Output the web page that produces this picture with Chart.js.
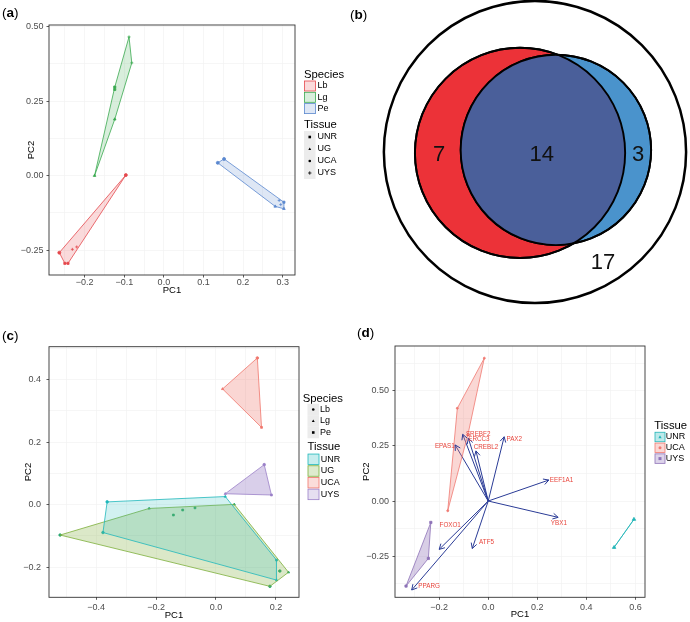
<!DOCTYPE html>
<html>
<head>
<meta charset="utf-8">
<script src="https://cdn.jsdelivr.net/npm/chart.js@4.4.1/dist/chart.umd.min.js"></script>
<style>
  body { margin: 0; background: #fff; width: 690px; height: 622px; position: relative; overflow: hidden;
         font-family: "Liberation Sans", Arial, sans-serif; }
  canvas { position: absolute; }
  .tag { position: absolute; font-size: 13.5px; color: #000; line-height: 15px; }
</style>
</head>
<body>
<canvas id="pa" width="345" height="300" style="left:0;top:0"></canvas>
<canvas id="pc" width="345" height="322" style="left:0;top:300px"></canvas>
<canvas id="pd" width="345" height="322" style="left:345px;top:300px"></canvas>
<canvas id="pb" width="345" height="310" style="left:345px;top:0"></canvas>
<div class="tag" style="left:2px;top:5px">(<b>a</b>)</div>
<div class="tag" style="left:350px;top:7px">(<b>b</b>)</div>
<div class="tag" style="left:2px;top:328px">(<b>c</b>)</div>
<div class="tag" style="left:357px;top:325px">(<b>d</b>)</div>
<script>
// ---- panel (a): PCA by species, shapes = tissue
const aSpecies = ['Lb', 'Lg', 'Pe'];
const aTissues = ['UNR', 'UG', 'UCA', 'UYS'];
const aLbX = [-0.096, -0.264, -0.250, -0.242, -0.231, -0.220];
const aLbY = [0.002, -0.258, -0.294, -0.294, -0.247, -0.239];
const aLbT = ['UCA', 'UCA', 'UNR', 'UNR', 'UYS', 'UYS'];
const aLgX = [-0.088, -0.081, -0.124, -0.124, -0.124, -0.175];
const aLgY = [0.465, 0.378, 0.297, 0.289, 0.189, 0.000];
const aLgT = ['UYS', 'UYS', 'UNR', 'UNR', 'UG', 'UG'];
const aPeX = [0.136, 0.152, 0.281, 0.303, 0.303, 0.291, 0.295];
const aPeY = [0.043, 0.056, -0.103, -0.111, -0.089, -0.083, -0.097];
const aPeT = ['UCA', 'UCA', 'UG', 'UG', 'UNR', 'UYS', 'UYS'];
const aXTicks = [-0.2, -0.1, 0.0, 0.1, 0.2, 0.3];
const aXLabels = ['\u22120.2', '\u22120.1', '0.0', '0.1', '0.2', '0.3'];
const aYTicks = [-0.25, 0.00, 0.25, 0.50];
const aYLabels = ['\u22120.25', '0.00', '0.25', '0.50'];

// ---- panel (b): Venn counts
const vennCounts = ['7', '14', '3', '17'];
const vennCountX = [4.09, 8.55, 12.74, 11.22];
const vennCountY = [6.74, 6.74, 6.74, 2.04];
const vennX = [8.26, 7.61, 9.17];   // outer, red set, blue set
const vennY = [6.87, 6.83, 6.96];
const vennR = [6.57, 4.57, 4.14];

// ---- panel (c): PCA by tissue, shapes = species
const cTissues = ['UNR', 'UG', 'UCA', 'UYS'];
const cSpecies = ['Lb', 'Lg', 'Pe'];
const cUnrX = [-0.363, 0.031, 0.202, 0.202, -0.377];
const cUnrY = [0.009, 0.026, -0.177, -0.241, -0.089];
const cUnrS = ['Lb', 'Lg', 'Pe', 'Lg', 'Lb'];
const cUgX = [-0.520, -0.223, 0.061, 0.242, 0.180, -0.142, -0.111, -0.070, 0.213];
const cUgY = [-0.097, -0.012, 0.001, -0.216, -0.261, -0.033, -0.017, -0.010, -0.212];
const cUgS = ['Lb', 'Lg', 'Lg', 'Lg', 'Lb', 'Pe', 'Pe', 'Pe', 'Lb'];
const cUcaX = [0.138, 0.022, 0.152];
const cUcaY = [0.469, 0.370, 0.247];
const cUcaS = ['Lb', 'Lg', 'Pe'];
const cUysX = [0.161, 0.031, 0.185];
const cUysY = [0.128, 0.035, 0.031];
const cUysS = ['Lb', 'Lg', 'Pe'];
const cXTicks = [-0.4, -0.2, 0.0, 0.2];
const cXLabels = ['\u22120.4', '\u22120.2', '0.0', '0.2'];
const cYTicks = [-0.2, 0.0, 0.2, 0.4];
const cYLabels = ['\u22120.2', '0.0', '0.2', '0.4'];

// ---- panel (d): biplot
const dTissues = ['UNR', 'UCA', 'UYS'];
const dUnrX = [0.594, 0.513];
const dUnrY = [-0.083, -0.210];
const dUcaX = [-0.016, -0.126, -0.165, -0.083];
const dUcaY = [0.647, 0.420, -0.044, 0.300];
const dUysX = [-0.234, -0.244, -0.335];
const dUysY = [-0.097, -0.260, -0.385];
const genes = ['SREBF2', 'ERCC3', 'CREBL2', 'EPAS1', 'PAX2', 'EEF1A1', 'YBX1', 'FOXO1', 'ATF5', 'PPARG'];
const geneX = [-0.104, -0.081, -0.050, -0.135, 0.065, 0.247, 0.285, -0.200, -0.065, -0.312];
const geneY = [0.302, 0.284, 0.227, 0.254, 0.291, 0.095, -0.074, -0.219, -0.215, -0.403];
const geneLabX = [-0.041, -0.038, -0.009, -0.177, 0.106, 0.299, 0.288, -0.155, -0.007, -0.241];
const geneLabY = [0.302, 0.281, 0.242, 0.246, 0.280, 0.095, -0.101, -0.109, -0.189, -0.384];
const dXTicks = [-0.2, 0.0, 0.2, 0.4, 0.6];
const dXLabels = ['\u22120.2', '0.0', '0.2', '0.4', '0.6'];
const dYTicks = [-0.25, 0.00, 0.25, 0.50];
const dYLabels = ['\u22120.25', '0.00', '0.25', '0.50'];

const ff = '"Liberation Sans", Arial, sans-serif';
Chart.defaults.font.family = ff;
Chart.defaults.animation = false;
Chart.defaults.events = [];
Chart.defaults.plugins.legend.display = false;
Chart.defaults.plugins.tooltip.enabled = false;

const shapeOf = { UNR: 'rect', UG: 'triangle', UCA: 'circle', UYS: 'cross', Lb: 'circle', Lg: 'triangle', Pe: 'rect' };

function rgba(hex, a) {
    const n = parseInt(hex.slice(1), 16);
    return `rgba(${n >> 16},${(n >> 8) & 255},${n & 255},${a})`;
}

// convex hull (monotone chain), like chull() in R
function hull(xs, ys) {
    const p = xs.map((x, i) => ({ x: x, y: ys[i] })).sort((a, b) => a.x - b.x || a.y - b.y);
    if (p.length < 3) return p;
    const cross = (o, a, b) => (a.x - o.x) * (b.y - o.y) - (a.y - o.y) * (b.x - o.x);
    const lo = [], up = [];
    for (const q of p) {
        while (lo.length >= 2 && cross(lo[lo.length - 2], lo[lo.length - 1], q) <= 0) lo.pop();
        lo.push(q);
    }
    for (let i = p.length - 1; i >= 0; i--) {
        const q = p[i];
        while (up.length >= 2 && cross(up[up.length - 2], up[up.length - 1], q) <= 0) up.pop();
        up.push(q);
    }
    lo.pop(); up.pop();
    return lo.concat(up);
}

const hullSet = (xs, ys, col, alpha) => {
    const h = hull(xs, ys);
    return {
        type: 'line', data: h.concat([h[0]]), borderColor: col, backgroundColor: rgba(col, alpha),
        borderWidth: 0.8, pointRadius: 0, tension: 0, fill: h.length > 2 ? 'shape' : false
    };
};

const pointSet = (xs, ys, kinds, col, r) => ({
    type: 'scatter', data: xs.map((x, i) => ({ x: x, y: ys[i] })),
    pointStyle: kinds.map(k => shapeOf[k]), pointRadius: r, backgroundColor: col,
    borderColor: col, borderWidth: 0.8
});

function axis(opt) {
    const minor = opt.minor.filter(v => v > opt.min && v < opt.max);
    const isMajor = v => opt.ticks.findIndex(t => Math.abs(t - v) < 1e-9);
    return {
        type: 'linear', min: opt.min, max: opt.max,
        afterBuildTicks: s => { s.ticks = opt.ticks.concat(minor).sort((a, b) => a - b).map(v => ({ value: v })); },
        afterFit: s => { if (opt.isX) s.height = opt.size; else s.width = opt.size; },
        grid: {
            color: '#f0f0f0', lineWidth: 0.6, tickLength: 2.5, tickWidth: 0.8,
            tickColor: c => (c.tick && isMajor(c.tick.value) >= 0) ? '#333' : 'rgba(0,0,0,0)'
        },
        border: { display: false },
        ticks: {
            autoSkip: false, maxRotation: 0, padding: opt.pad, color: '#4d4d4d', font: { size: 9 },
            callback: v => { const i = isMajor(v); return i < 0 ? '' : opt.labels[i]; }
        },
        title: { display: true, text: opt.title, color: '#000', font: { size: 9.5 }, padding: opt.titlePad }
    };
}

const frame = {
    id: 'frame',
    afterDraw(chart) {
        const { ctx, chartArea: a } = chart;
        ctx.save();
        ctx.strokeStyle = '#333';
        ctx.lineWidth = 0.9;
        ctx.strokeRect(a.left, a.top, a.right - a.left, a.bottom - a.top);
        ctx.restore();
    }
};

function sym(ctx, style, x, y, r) {
    ctx.beginPath();
    if (style === 'rect') { ctx.rect(x - r, y - r, 2 * r, 2 * r); ctx.fill(); }
    else if (style === 'triangle') {
        ctx.moveTo(x, y - r * 1.2); ctx.lineTo(x + r * 1.1, y + r * 0.8); ctx.lineTo(x - r * 1.1, y + r * 0.8);
        ctx.closePath(); ctx.fill();
    }
    else if (style === 'circle') { ctx.arc(x, y, r, 0, 2 * Math.PI); ctx.fill(); }
    else if (style === 'cross') {
        ctx.lineWidth = 0.8;
        ctx.moveTo(x - r * 1.3, y); ctx.lineTo(x + r * 1.3, y);
        ctx.moveTo(x, y - r * 1.3); ctx.lineTo(x, y + r * 1.3); ctx.stroke();
    }
}

// ggplot-like legend: sections with a title and keys
function legendPlugin(sections) {
    return {
        id: 'ggLegend',
        afterDraw(chart) {
            const ctx = chart.ctx;
            ctx.save();
            ctx.textBaseline = 'middle';
            ctx.textAlign = 'left';
            for (const s of sections) {
                ctx.font = `11.3px ${ff}`;
                ctx.fillStyle = '#000';
                ctx.fillText(s.title, s.tx, s.ty);
                s.labels.forEach((lab, i) => {
                    const y = s.y0 + i * s.dy;
                    const col = s.colors ? s.colors[i] : '#000';
                    if (s.kind === 'symbol') {
                        ctx.fillStyle = '#ececec';
                        ctx.fillRect(s.kx, y - s.dy / 2, s.kw, s.dy);
                        ctx.fillStyle = '#000'; ctx.strokeStyle = '#000';
                        sym(ctx, shapeOf[lab], s.kx + s.kw / 2, y, 1.3);
                    } else {
                        ctx.fillStyle = rgba(col, s.alpha);
                        ctx.strokeStyle = col;
                        ctx.lineWidth = 0.8;
                        ctx.fillRect(s.kx + 0.5, y - s.kh / 2, s.kw - 1, s.kh);
                        ctx.strokeRect(s.kx + 0.5, y - s.kh / 2, s.kw - 1, s.kh);
                        if (s.kind === 'boxSymbol') {
                            ctx.fillStyle = col; ctx.strokeStyle = col;
                            sym(ctx, s.shapes[i], s.kx + s.kw / 2, y, 1.5);
                        }
                    }
                    ctx.font = `9px ${ff}`;
                    ctx.fillStyle = '#000';
                    ctx.fillText(lab, s.lx, y);
                });
            }
            ctx.restore();
        }
    };
}

// ================= panel (a)
const aCols = ['#e5484c', '#3aa94f', '#5a88cf'];
new Chart(document.getElementById('pa'), {
    type: 'scatter',
    data: {
        datasets: [
            hullSet(aLbX, aLbY, aCols[0], 0.2),
            hullSet(aLgX, aLgY, aCols[1], 0.2),
            hullSet(aPeX, aPeY, aCols[2], 0.2),
            pointSet(aLbX, aLbY, aLbT, aCols[0], 1.5),
            pointSet(aLgX, aLgY, aLgT, aCols[1], 1.5),
            pointSet(aPeX, aPeY, aPeT, aCols[2], 1.5)
        ]
    },
    options: {
        responsive: false,
        layout: { padding: { left: 0, top: 25, right: 50, bottom: 0 } },
        scales: {
            x: axis({ isX: true, min: -0.290, max: 0.331, ticks: aXTicks, labels: aXLabels,
                minor: [-0.25, -0.15, -0.05, 0.05, 0.15, 0.25], size: 25, pad: 0,
                title: 'PC1', titlePad: { top: 0, bottom: 3.6 } }),
            y: axis({ isX: false, min: -0.333, max: 0.505, ticks: aYTicks, labels: aYLabels,
                minor: [-0.125, 0.125, 0.375], size: 49, pad: 3,
                title: 'PC2', titlePad: { top: 26, bottom: 0 } })
        }
    },
    plugins: [frame, legendPlugin([
        { title: 'Species', tx: 304, ty: 75, labels: aSpecies, colors: aCols, kind: 'box', alpha: 0.2,
          kx: 304, kw: 12, kh: 10, y0: 86, dy: 11.3, lx: 317.5 },
        { title: 'Tissue', tx: 304, ty: 125.3, labels: aTissues, kind: 'symbol',
          kx: 304, kw: 11.5, y0: 137, dy: 12, lx: 317.5 }
    ])]
});

// ================= panel (b)
// bubble chart whose big circles should not shrink the plot area
class VennController extends Chart.BubbleController {
    getMaxOverflow() { return false; }
}
VennController.id = 'venn';
VennController.defaults = Chart.BubbleController.defaults;
VennController.overrides = Chart.BubbleController.overrides;
Chart.register(VennController);

// x axis spans 15 units over the 345px canvas, so one unit is 23px; bubble r is in pixels
const vennUnitPx = 345 / 15;
const vennPlugin = {
    id: 'vennOverlap',
    afterDatasetsDraw(chart) {
        const { ctx, scales: { x, y } } = chart;
        const cx = i => x.getPixelForValue(vennX[i]);
        const cy = i => y.getPixelForValue(vennY[i]);
        const rr = i => x.getPixelForValue(vennR[i]) - x.getPixelForValue(0);
        ctx.save();
        ctx.beginPath();
        ctx.arc(cx(1), cy(1), rr(1), 0, 2 * Math.PI);
        ctx.clip();
        ctx.beginPath();
        ctx.arc(cx(2), cy(2), rr(2), 0, 2 * Math.PI);
        ctx.fillStyle = '#4a5f9a';
        ctx.fill();
        ctx.restore();
        ctx.save();
        ctx.strokeStyle = '#000';
        ctx.lineWidth = 1.9;
        for (const i of [1, 2]) {
            ctx.beginPath();
            ctx.arc(cx(i), cy(i), rr(i), 0, 2 * Math.PI);
            ctx.stroke();
        }
        ctx.fillStyle = '#111';
        ctx.font = `22px ${ff}`;
        ctx.textAlign = 'center';
        ctx.textBaseline = 'middle';
        vennCounts.forEach((t, i) => {
            ctx.fillText(t, x.getPixelForValue(vennCountX[i]), y.getPixelForValue(vennCountY[i]));
        });
        ctx.restore();
    }
};
new Chart(document.getElementById('pb'), {
    type: 'venn',
    data: {
        datasets: [{
            data: vennX.map((v, i) => ({ x: v, y: vennY[i], r: vennR[i] * vennUnitPx })),
            backgroundColor: ['#ffffff', '#ec3238', '#4a93cc'],
            borderColor: '#000',
            borderWidth: [2.5, 1.9, 1.9],
            clip: false
        }]
    },
    options: {
        responsive: false,
        layout: { padding: 0 },
        scales: {
            x: { type: 'linear', display: false, min: 0, max: 15 },
            y: { type: 'linear', display: false, min: 0, max: 310 / 23 }
        }
    },
    plugins: [vennPlugin]
});

// ================= panel (c)
const cCols = ['#1fb8bb', '#7cae3a', '#f0766c', '#9b80c8'];
new Chart(document.getElementById('pc'), {
    type: 'scatter',
    data: {
        datasets: [
            hullSet(cUnrX, cUnrY, cCols[0], 0.2),
            hullSet(cUgX, cUgY, cCols[1], 0.28),
            hullSet(cUcaX, cUcaY, cCols[2], 0.3),
            hullSet(cUysX, cUysY, cCols[3], 0.38),
            pointSet(cUnrX, cUnrY, cUnrS, cCols[0], 1.3),
            pointSet(cUgX, cUgY, cUgS, '#2aa872', 1.3),
            pointSet(cUcaX, cUcaY, cUcaS, cCols[2], 1.3),
            pointSet(cUysX, cUysY, cUysS, cCols[3], 1.3)
        ]
    },
    options: {
        responsive: false,
        layout: { padding: { left: 0, top: 46.7, right: 46, bottom: 0 } },
        scales: {
            x: axis({ isX: true, min: -0.557, max: 0.277, ticks: cXTicks, labels: cXLabels,
                minor: [-0.5, -0.3, -0.1, 0.1], size: 24.7, pad: 2,
                title: 'PC1', titlePad: { top: 0, bottom: 1.3 } }),
            y: axis({ isX: false, min: -0.296, max: 0.505, ticks: cYTicks, labels: cYLabels,
                minor: [-0.3, -0.1, 0.1, 0.3, 0.5], size: 49, pad: 5.5,
                title: 'PC2', titlePad: { top: 23, bottom: 0 } })
        }
    },
    plugins: [frame, legendPlugin([
        { title: 'Species', tx: 302.7, ty: 99, labels: cSpecies, kind: 'symbol',
          kx: 307.5, kw: 11.5, y0: 109.5, dy: 11.5, lx: 320 },
        { title: 'Tissue', tx: 307.5, ty: 146.7, labels: cTissues, colors: cCols, kind: 'box', alpha: 0.25,
          kx: 307.5, kw: 12, kh: 10.5, y0: 159.3, dy: 11.7, lx: 320.7 }
    ])]
});

// ================= panel (d)
const dCols = ['#22b5b8', '#f07a72', '#8e72b8'];
const arrowCol = '#2a3b96';
const arrowHeads = {
    id: 'arrowHeads',
    afterDatasetsDraw(chart) {
        const { ctx, scales: { x, y } } = chart;
        const ox = x.getPixelForValue(0), oy = y.getPixelForValue(0);
        ctx.save();
        ctx.strokeStyle = arrowCol;
        ctx.lineWidth = 1;
        genes.forEach((g, i) => {
            const tx = x.getPixelForValue(geneX[i]), ty = y.getPixelForValue(geneY[i]);
            const ang = Math.atan2(ty - oy, tx - ox);
            ctx.beginPath();
            for (const s of [-1, 1]) {
                const a = ang + Math.PI + s * 0.5;
                ctx.moveTo(tx, ty);
                ctx.lineTo(tx + 6 * Math.cos(a), ty + 6 * Math.sin(a));
            }
            ctx.stroke();
        });
        ctx.fillStyle = '#e8453c';
        ctx.font = `6.3px ${ff}`;
        ctx.textAlign = 'center';
        ctx.textBaseline = 'middle';
        genes.forEach((g, i) => {
            ctx.fillText(g, x.getPixelForValue(geneLabX[i]), y.getPixelForValue(geneLabY[i]));
        });
        ctx.restore();
    }
};
const arrowSets = genes.map((g, i) => ({
    type: 'line', data: [{ x: 0, y: 0 }, { x: geneX[i], y: geneY[i] }],
    borderColor: arrowCol, borderWidth: 1, pointRadius: 0, fill: false
}));
new Chart(document.getElementById('pd'), {
    type: 'scatter',
    data: {
        datasets: [
            hullSet(dUcaX, dUcaY, dCols[1], 0.3),
            hullSet(dUysX, dUysY, dCols[2], 0.35),
            hullSet(dUnrX, dUnrY, dCols[0], 0.25),
            pointSet(dUcaX, dUcaY, dUcaX.map(() => 'UCA'), dCols[1], 1.0),
            pointSet(dUysX, dUysY, dUysX.map(() => 'UNR'), dCols[2], 1.6),
            pointSet(dUnrX, dUnrY, dUnrX.map(() => 'UG'), dCols[0], 2.0)
        ].concat(arrowSets)
    },
    options: {
        responsive: false,
        layout: { padding: { left: 0, top: 46, right: 45, bottom: 0 } },
        scales: {
            x: axis({ isX: true, min: -0.380, max: 0.639, ticks: dXTicks, labels: dXLabels,
                minor: [-0.3, -0.1, 0.1, 0.3, 0.5], size: 24.7, pad: 2,
                title: 'PC1', titlePad: { top: 0, bottom: 2 } }),
            y: axis({ isX: false, min: -0.436, max: 0.702, ticks: dYTicks, labels: dYLabels,
                minor: [-0.375, -0.125, 0.125, 0.375, 0.625], size: 50, pad: 3.5,
                title: 'PC2', titlePad: { top: 16, bottom: 0 } })
        }
    },
    plugins: [frame, arrowHeads, legendPlugin([
        { title: 'Tissue', tx: 309.3, ty: 126, labels: dTissues, colors: dCols, kind: 'boxSymbol',
          shapes: ['triangle', 'circle', 'rect'], alpha: 0.3,
          kx: 309.5, kw: 11, kh: 9.5, y0: 137, dy: 10.8, lx: 320.7 }
    ])]
});
</script>
</body>
</html>
